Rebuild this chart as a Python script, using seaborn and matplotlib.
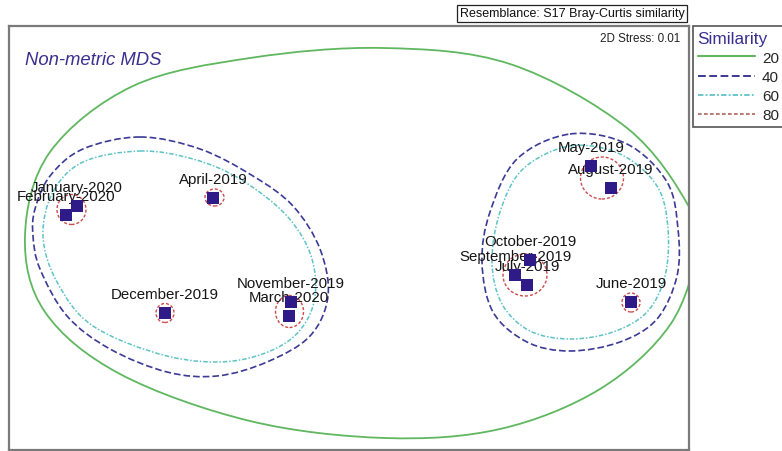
import numpy as np
import pandas as pd
import matplotlib
matplotlib.use("Agg")
import matplotlib.pyplot as plt
from matplotlib.path import Path
from matplotlib.patches import PathPatch, Ellipse
from matplotlib.lines import Line2D
import seaborn as sns

# ---- nMDS ordination of monthly samples ----
months = ["January-2020", "February-2020", "April-2019", "December-2019",
          "November-2019", "March-2020", "May-2019", "August-2019",
          "October-2019", "September-2019", "July-2019", "June-2019"]
mds1 = [-1.36, -1.415, -0.68, -0.92, -0.29, -0.30, 1.21, 1.31, 0.905, 0.83, 0.89, 1.41]
mds2 = [0.16, 0.115, 0.20, -0.375, -0.32, -0.39, 0.36, 0.25, -0.11, -0.185, -0.235, -0.32]

# ---- similarity contours (cluster outlines) ----
sim20_x = [0.17, 0.805, 1.39, 1.695, 1.74, 1.605, 1.255, 0.755, 0.18, -0.495,
           -1.145, -1.52, -1.62, -1.495, -1.08, -0.495]
sim20_y = [0.95, 0.87, 0.55, 0.165, -0.055, -0.435, -0.755, -0.955, -1.0, -0.915,
           -0.68, -0.37, 0.01, 0.43, 0.76, 0.90]

sim40a_x = [-1.045, -0.745, -0.48, -0.28, -0.145, -0.105, -0.195, -0.41, -0.66,
            -0.91, -1.195, -1.41, -1.545, -1.58, -1.57, -1.495, -1.33]
sim40a_y = [0.505, 0.445, 0.31, 0.16, -0.055, -0.29, -0.49, -0.62, -0.69,
            -0.67, -0.555, -0.39, -0.155, 0.01, 0.145, 0.31, 0.445]
sim40b_x = [1.105, 1.39, 1.59, 1.645, 1.64, 1.54, 1.355, 1.105, 0.89, 0.72, 0.665, 0.705, 0.84]
sim40b_y = [0.52, 0.47, 0.28, 0.045, -0.19, -0.405, -0.52, -0.565, -0.52, -0.37, -0.12, 0.13, 0.395]

sim60a_x = [-1.045, -0.78, -0.545, -0.31, -0.185, -0.18, -0.31, -0.58, -0.91,
            -1.28, -1.46, -1.53, -1.48, -1.33]
sim60a_y = [0.435, 0.395, 0.295, 0.11, -0.105, -0.34, -0.52, -0.615, -0.59,
            -0.44, -0.22, 0.01, 0.23, 0.38]
sim60b_x = [1.105, 1.355, 1.54, 1.595, 1.58, 1.49, 1.32, 1.105, 0.905, 0.765, 0.715, 0.755, 0.87]
sim60b_y = [0.46, 0.42, 0.26, 0.045, -0.19, -0.37, -0.47, -0.505, -0.465, -0.33, -0.12, 0.13, 0.345]

# 80 % similarity groups: centre and extent
sim80_cx = [-1.3875, -0.6725, -0.92, -0.2975, 1.265, 0.88, 1.41]
sim80_cy = [0.1425, 0.2025, -0.375, -0.3675, 0.30, -0.185, -0.3225]
sim80_w = [0.145, 0.095, 0.09, 0.14, 0.215, 0.22, 0.09]
sim80_h = [0.15, 0.085, 0.095, 0.16, 0.21, 0.21, 0.095]

levels = ["20", "40", "60", "80"]

# ---- styles ----
C20, C40, C60, C80 = "#5fb760", "#3b3a96", "#5ec3c6", "#cc4c4e"
C80_KEY = "#b0625a"
MARK = "#2e1b87"
INDIGO = "#3a2f8f"
STY = {
    "20": dict(color=C20, lw=1.3, ls="-"),
    "40": dict(color=C40, lw=1.2, ls=(0, (4.0, 1.8))),
    "60": dict(color=C60, lw=1.1, ls=(0, (3.0, 1.2, 1.0, 1.2))),
    "80": dict(color=C80, lw=1.0, ls=(0, (2.2, 1.4))),
}


def closed_curve(xs, ys):
    """Smooth closed outline (Catmull-Rom as cubic Bezier segments)."""
    p = np.column_stack([xs, ys])
    n = len(p)
    verts = [p[0]]
    codes = [Path.MOVETO]
    for i in range(n):
        p0, p1, p2, p3 = p[i - 1], p[i], p[(i + 1) % n], p[(i + 2) % n]
        verts += [p1 + (p2 - p0) / 6.0, p2 - (p3 - p1) / 6.0, p2]
        codes += [Path.CURVE4] * 3
    verts.append(p[0])
    codes.append(Path.CLOSEPOLY)
    return Path(np.array(verts), codes)


sns.set_theme(style="white")
plt.rcParams["font.family"] = ["Liberation Sans", "DejaVu Sans"]

fig = plt.figure(figsize=(7.82, 4.52), dpi=100)
ax = fig.add_axes([9 / 782, 1 / 452, 680 / 782, 424 / 452])
ax.set_xlim(-1.70, 1.70)
ax.set_ylim(-1.06, 1.06)
ax.set_xticks([])
ax.set_yticks([])
for sp in ax.spines.values():
    sp.set_color("#7a7a7a")
    sp.set_linewidth(1.6)

# contours
for lvl, (xs, ys) in [("20", (sim20_x, sim20_y)),
                      ("40", (sim40a_x, sim40a_y)), ("40", (sim40b_x, sim40b_y)),
                      ("60", (sim60a_x, sim60a_y)), ("60", (sim60b_x, sim60b_y))]:
    s = STY[lvl]
    ax.add_patch(PathPatch(closed_curve(xs, ys), fill=False, edgecolor=s["color"],
                           lw=s["lw"], ls=s["ls"], zorder=2))
for cx, cy, w, h in zip(sim80_cx, sim80_cy, sim80_w, sim80_h):
    s = STY["80"]
    ax.add_patch(Ellipse((cx, cy), w, h, fill=False, edgecolor=s["color"],
                         lw=s["lw"], ls=s["ls"], zorder=2))

# sample labels (beneath the markers)
for name, x, y in zip(months, mds1, mds2):
    ax.annotate(name, (x, y), xytext=(0, 13.5), textcoords="offset points",
                ha="center", va="center", fontsize=10.8, color="#151515", zorder=3)

# samples
df = pd.DataFrame({"MDS1": mds1, "MDS2": mds2, "Month": months})
sns.scatterplot(data=df, x="MDS1", y="MDS2", marker="s", s=72, color=MARK,
                edgecolor="none", linewidth=0, ax=ax, zorder=4, legend=False)
ax.set_xlabel("")
ax.set_ylabel("")

ax.text(0.0235, 0.922, "Non-metric MDS", transform=ax.transAxes, fontsize=13.3,
        style="italic", color=INDIGO, ha="left", va="center")
ax.text(0.9868, 0.972, "2D Stress: 0.01", transform=ax.transAxes, fontsize=8.4,
        color="#222222", ha="right", va="center")

fig.text(572 / 782, 1 - 14 / 452, "Resemblance: S17 Bray-Curtis similarity",
         fontsize=9, color="#111111", ha="center", va="center",
         bbox=dict(boxstyle="square,pad=0.2", facecolor="white",
                   edgecolor="#222222", linewidth=0.9))

# legend
handles = []
for lvl in levels:
    s = STY[lvl]
    col = C80_KEY if lvl == "80" else s["color"]
    handles.append(Line2D([], [], color=col, lw=s["lw"] + 0.2, ls=s["ls"]))
leg = fig.legend(handles, levels, loc="upper left",
                 bbox_to_anchor=(693 / 782, 1 - 27 / 452), borderaxespad=0,
                 frameon=True, fancybox=False, framealpha=1, edgecolor="#555555",
                 title="Similarity", title_fontsize=12.4, alignment="left",
                 fontsize=11, handlelength=3.75, handletextpad=0.46,
                 labelspacing=0.34, borderpad=0.3)
leg.get_title().set_color(INDIGO)
leg.get_frame().set_linewidth(1.2)

fig.savefig("out.png", dpi=100, facecolor="white")
